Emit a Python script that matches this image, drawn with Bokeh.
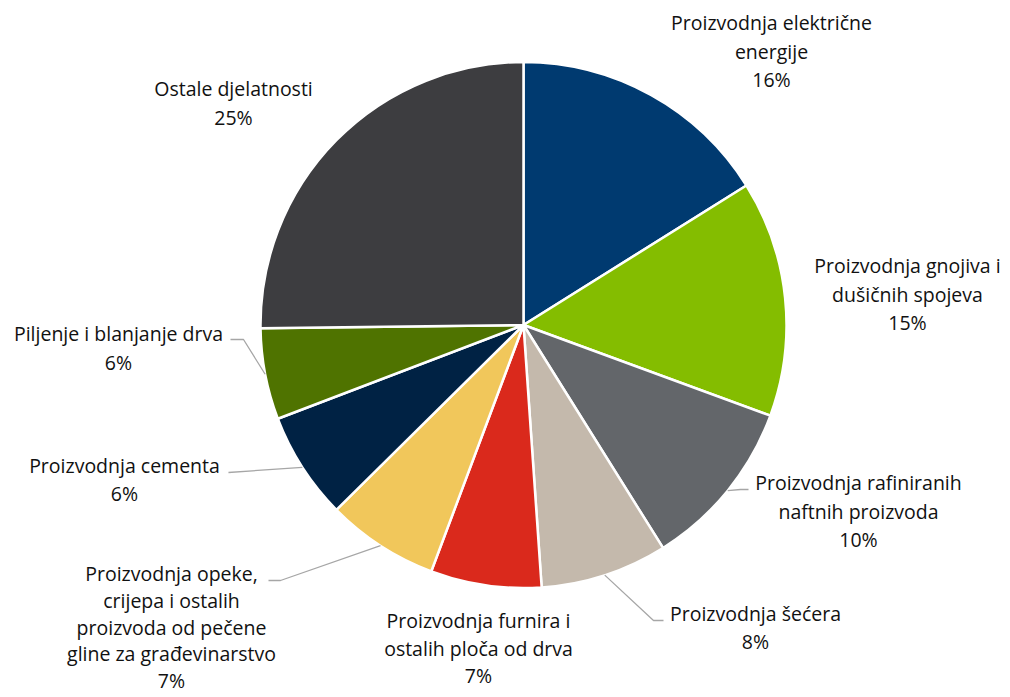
import math
from bokeh.plotting import figure
from bokeh.models import ColumnDataSource, Range1d
from bokeh.core.properties import value
from bokeh.embed import file_html
from bokeh.resources import INLINE

# ---- data ----
categories = [
    "Proizvodnja električne\nenergije",
    "Proizvodnja gnojiva i\ndušičnih spojeva",
    "Proizvodnja rafiniranih\nnaftnih proizvoda",
    "Proizvodnja šećera",
    "Proizvodnja furnira i\nostalih ploča od drva",
    "Proizvodnja opeke,\ncrijepa i ostalih\nproizvoda od pečene\ngline za građevinarstvo",
    "Proizvodnja cementa",
    "Piljenje i blanjanje drva",
    "Ostale djelatnosti",
]
shares = [16.1, 14.5, 10.5, 7.8, 6.8, 6.9, 6.6, 5.6, 25.2]
pct_labels = ["16%", "15%", "10%", "8%", "7%", "7%", "6%", "6%", "25%"]
colors = ["#003A70", "#84BD00", "#63666A", "#C4B9AC", "#DA291C",
          "#F1C75B", "#002244", "#4F7300", "#3D3D40"]

# ---- layout (page pixel space, converted to plot data) ----
W, H = 1010, 697
def px(X, Y):
    return X, H - Y

CX, CY = px(523, 324.5)
R = 263
FONT = "Open Sans"
FONT_SIZE = "19.5px"

# label anchor: centre x, first line y, line spacing (page px)
label_pos = [(771, 22, 28.5), (907, 265, 28.5), (858, 482, 28.5),
             (755, 613, 28), (478, 620, 27.5), (171, 573, 26.8),
             (124, 465, 28), (118, 333, 28.5), (233, 88, 28.5)]
# leader lines after the pie-edge point; None = no leader
leaders = [None, None,
           [(740, 489), (748, 489)],
           [(653, 620), (663, 620)],
           None,
           [(280, 580), (268, 580)],
           [(228, 472)],
           [(243, 339), (230, 339)],
           None]

p = figure(width=W, height=H, output_backend="svg", toolbar_location=None,
           x_range=Range1d(0, W), y_range=Range1d(0, H), min_border=0,
           match_aspect=False)
p.axis.visible = False
p.grid.visible = False
p.outline_line_color = None
p.background_fill_color = "white"
p.border_fill_color = "white"

total = sum(shares)
starts, ends, mids = [], [], []
cum = 0.0
for s in shares:
    a0 = cum / total * 2 * math.pi
    cum += s
    a1 = cum / total * 2 * math.pi
    starts.append(math.pi / 2 - a1)
    ends.append(math.pi / 2 - a0)
    mids.append((a0 + a1) / 2)

src = ColumnDataSource(dict(start=starts, end=ends, color=colors))
p.wedge(x=CX, y=CY, radius=R, start_angle="start", end_angle="end",
        fill_color="color", line_color="white", line_width=2.5, source=src)

for i, pts in enumerate(leaders):
    if pts is None:
        continue
    ex = CX + R * math.sin(mids[i])
    ey = CY + R * math.cos(mids[i])
    xs = [ex] + [px(*q)[0] for q in pts]
    ys = [ey] + [px(*q)[1] for q in pts]
    p.line(xs, ys, line_color="#A6A6A6", line_width=1.3)

tx, ty, tt = [], [], []
for i, cat in enumerate(categories):
    lines = cat.split("\n") + [pct_labels[i]]
    X, Y, LH = label_pos[i]
    for k, ln in enumerate(lines):
        x, y = px(X, Y + k * LH)
        tx.append(x); ty.append(y); tt.append(ln)
p.text(x=tx, y=ty, text=tt, text_align="center", text_baseline="middle",
       text_font=value(FONT), text_font_size=FONT_SIZE, text_color="#111111")

open("out.html", "w").write(file_html(p, INLINE))
